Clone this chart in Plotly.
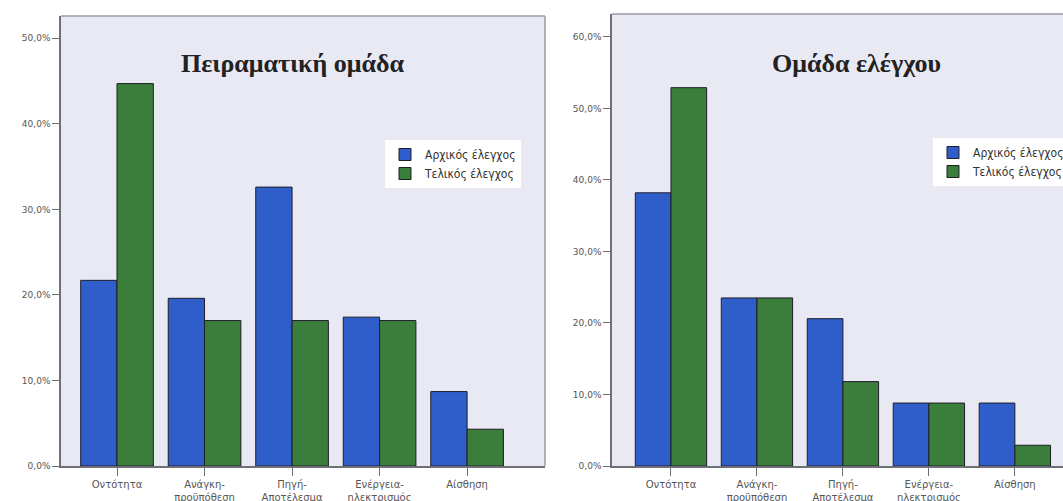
import plotly.graph_objects as go

# Categories of the answers (two-line tick labels)
categories = ["Οντότητα", "Ανάγκη-<br>προϋπόθεση", "Πηγή-<br>Αποτέλεσμα",
              "Ενέργεια-<br>ηλεκτρισμός", "Αίσθηση"]
series_names = ["Αρχικός έλεγχος", "Τελικός έλεγχος"]

# Experimental group (%)
exp_initial = [21.7, 19.6, 32.6, 17.4, 8.7]
exp_final = [44.7, 17.0, 17.0, 17.0, 4.3]

# Control group (%)
ctrl_initial = [38.2, 23.5, 20.6, 8.8, 8.8]
ctrl_final = [52.9, 23.5, 11.8, 8.8, 2.9]

left_ticks = [0, 10, 20, 30, 40, 50]
right_ticks = [0, 10, 20, 30, 40, 50, 60]

BLUE = "#2f5ecb"
GREEN = "#3b7d3b"
BG = "#e9e9f4"
AXIS = "#6f6f78"
FRAME = "#9a9aa6"

W, H = 1063, 501
MT, MB = 14, 35
PH = H - MT - MB


def tick_text(vals):
    return [f"{v:.1f}%".replace(".", ",") for v in vals]


fig = go.Figure()

x_idx = list(range(len(categories)))
panels = [
    ("x", "y", "legend", exp_initial, exp_final),
    ("x2", "y2", "legend2", ctrl_initial, ctrl_final),
]
for xa, ya, lg, init, fin in panels:
    for name, vals, col in zip(series_names, [init, fin], [BLUE, GREEN]):
        fig.add_trace(go.Bar(
            x=x_idx, y=vals, name=name, xaxis=xa, yaxis=ya, legend=lg,
            marker=dict(color=col, line=dict(color="#1e1e28", width=1)),
        ))

axis_common = dict(showgrid=False, zeroline=False, showline=True,
                   linecolor=AXIS, linewidth=1.5, ticks="outside",
                   tickcolor=AXIS)
ytick_font = dict(family="DejaVu Sans", size=9, color="#555")
xtick_font = dict(family="DejaVu Sans", size=10, color="#555")
legend_font = dict(family="DejaVu Sans Condensed", size=12, color="#333")

fig.update_layout(
    width=W, height=H,
    margin=dict(l=0, r=0, t=MT, b=MB, autoexpand=False),
    paper_bgcolor="white",
    plot_bgcolor=BG,
    barmode="group",
    bargap=0.17,
    bargroupgap=0,
    showlegend=True,
    xaxis=dict(domain=[61 / W, 545 / W], range=[-0.64, 4.89],
               tickvals=x_idx, ticktext=categories, ticklen=8, anchor="y",
               tickfont=xtick_font, **axis_common),
    yaxis=dict(domain=[0, 1 - 2 / PH],
               range=[0, 52.6], tickvals=left_ticks,
               ticktext=tick_text(left_ticks), ticklen=7, anchor="x",
               tickfont=ytick_font, **axis_common),
    xaxis2=dict(domain=[612 / W, 1.0], range=[-0.686, 4.56],
                tickvals=x_idx, ticktext=categories, ticklen=8, anchor="y2",
                tickfont=xtick_font, **axis_common),
    yaxis2=dict(domain=[0, 1], range=[0, 63.2], tickvals=right_ticks,
                ticktext=tick_text(right_ticks), ticklen=7, anchor="x2",
                tickfont=ytick_font, **axis_common),
    legend=dict(x=385 / W, y=(H - MB - 140) / PH, xanchor="left", yanchor="top",
                bgcolor="white", font=legend_font, tracegroupgap=2, itemwidth=30),
    legend2=dict(x=933 / W, y=(H - MB - 138) / PH, xanchor="left", yanchor="top",
                 bgcolor="white", font=legend_font, tracegroupgap=2, itemwidth=30),
)

# Frame lines on the top and right of each plot area
fig.add_shape(type="line", xref="paper", yref="paper", x0=61 / W, x1=545 / W,
              y0=1 - 2 / PH, y1=1 - 2 / PH, line=dict(color=FRAME, width=1.5))
fig.add_shape(type="line", xref="paper", yref="paper", x0=545 / W, x1=545 / W,
              y0=0, y1=1 - 2 / PH, line=dict(color=FRAME, width=1.5))
fig.add_shape(type="line", xref="paper", yref="paper", x0=612 / W, x1=1,
              y0=1, y1=1, line=dict(color=FRAME, width=1.5))

# Panel titles
title_font = dict(family="Liberation Serif", size=26, color="#222")
fig.add_annotation(text="<b>Πειραματική ομάδα</b>", xref="paper", yref="paper",
                   x=293 / W, y=(H - MB - 63) / PH, xanchor="center", yanchor="middle",
                   showarrow=False, font=title_font)
fig.add_annotation(text="<b>Ομάδα ελέγχου</b>", xref="paper", yref="paper",
                   x=856 / W, y=(H - MB - 63) / PH, xanchor="center", yanchor="middle",
                   showarrow=False, font=title_font)

fig.write_html("out.html")
